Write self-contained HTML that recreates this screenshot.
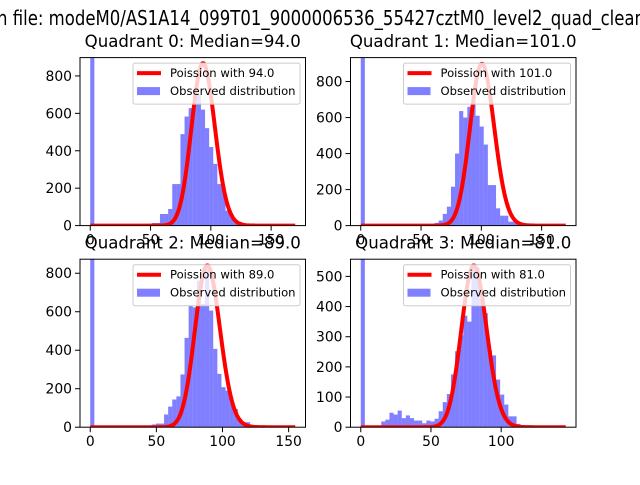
<!DOCTYPE html>
<html><head><meta charset="utf-8"><style>
html,body{margin:0;padding:0;background:#fff;}
svg text{font-family:"DejaVu Sans","Liberation Sans",sans-serif;}
</style></head><body>
<svg id="fig" width="640" height="480" viewBox="0 0 640 480" xmlns="http://www.w3.org/2000/svg">
<rect width="640" height="480" fill="#fff"/>
<text x="-3" y="25" font-size="20" textLength="648" lengthAdjust="spacingAndGlyphs">n file: modeM0/AS1A14_099T01_9000006536_55427cztM0_level2_quad_clean</text>
</svg>
<script>
const lambdas=[94,101,89,81];
const curvePeaks=[868,898,840,536];
const xMaxes=[170,170,155,146];
const yMaxes=[898,933,873,557];
const xTicks=[[0,50,100,150],[0,50,100,150],[0,50,100,150],[0,50,100]];
const yTicks=[[0,200,400,600,800],[0,200,400,600,800],[0,200,400,600,800],[0,100,200,300,400,500]];
const counts0=[3000,0,0,0,0,0,0,0,0,0,0,0,0,0,0,14,14,62,62,89,222,222,489,583,628,654,700,620,521,420,330,222,200,80,60,20,20,10,5,0,0,0,0,0,0,0,0,0,0,0];
const counts1=[3000,0,0,0,0,0,0,0,0,0,0,0,0,0,0,0,0,0,15,28,65,105,216,400,636,600,660,710,610,550,450,225,225,96,55,55,22,22,13,5,0,0,0,0,0,0,0,0,0,0];
const counts2=[3000,0,0,0,0,0,0,0,0,0,0,0,0,0,0,14,19,19,66,107,144,160,274,464,632,623,762,640,830,606,407,277,208,190,139,95,43,26,26,0,0,0,0,0,0,0,0,0,0,0];
const counts3=[3000,0,0,0,0,19,25,48,42,55,30,39,30,22,22,13,22,19,28,53,83,110,175,252,304,370,350,530,530,425,378,254,238,158,108,75,36,36,11,5,0,0,0,0,0,0,0,0,0,0];
const allCounts=[counts0,counts1,counts2,counts3];

const NS="http://www.w3.org/2000/svg";
const fig=document.getElementById('fig');
function mk(tag,attrs,parent){const e=document.createElementNS(NS,tag);for(const k in attrs)e.setAttribute(k,attrs[k]);(parent||fig).appendChild(e);return e;}
const boxes=[[80,57.6],[350.5,57.6],[80,259.2],[350.5,259.2]];
const W=225.5,H=168;
function lnFact(k){let s=0;for(let i=2;i<=k;i++)s+=Math.log(i);return s;}
function pmf(k,l){return Math.exp(k*Math.log(l)-l-lnFact(k));}

for(let q=0;q<4;q++){
  const [x0,y0]=boxes[q];
  const xmax=xMaxes[q],ymax=yMaxes[q];
  const xlo=-0.05*xmax,xhi=1.05*xmax;
  const sx=v=>x0+(v-xlo)/(xhi-xlo)*W;
  const sy=v=>y0+H-v/ymax*H;
  const g=mk('g',{});
  
  
  const cp=mk('clipPath',{id:'cp'+q},g);
  mk('rect',{x:x0,y:y0,width:W,height:H},cp);
  const plot=mk('g',{'clip-path':'url(#cp'+q+')'},g);
  const c=allCounts[q];const bw=xmax/c.length;
  c.forEach((v,i)=>{
    if(v<=0)return;
    const r=mk('rect',{x:sx(i*bw),y:sy(v),width:sx((i+1)*bw)-sx(i*bw),height:sy(0)-sy(v),fill:'#0000ff','fill-opacity':0.5},plot);
    
    
  });
  const lam=lambdas[q];
  const A=curvePeaks[q]/pmf(Math.floor(lam),lam);
  let d='';
  for(let k=0;k<=xmax;k++){d+=(k?'L':'M')+sx(k).toFixed(2)+','+sy(A*pmf(k,lam)).toFixed(2);}
  const curve=mk('path',{d:d,fill:'none',stroke:'#ff0000','stroke-width':4,'stroke-linejoin':'round'},plot);
  
  
  mk('rect',{x:x0,y:y0,width:W,height:H,fill:'none',stroke:'#000','stroke-width':1},g);
  xTicks[q].forEach(t=>{
    mk('line',{x1:sx(t),x2:sx(t),y1:y0+H,y2:y0+H+5,stroke:'#000'},g);
    const tx=mk('text',{x:sx(t),y:y0+H+19,'font-size':13.9,'text-anchor':'middle'},g);
    tx.textContent=t;
    
    
  });
  yTicks[q].forEach(t=>{
    mk('line',{x1:x0-5,x2:x0,y1:sy(t),y2:sy(t),stroke:'#000'},g);
    const tx=mk('text',{x:x0-8,y:sy(t)+5,'font-size':13.9,'text-anchor':'end'},g);
    tx.textContent=t;
    
    
  });
  const ti=mk('text',{x:x0+W/2,y:y0-10.5,'font-size':16.6,'text-anchor':'middle'},g);
  ti.textContent='Quadrant '+q+': Median='+lam.toFixed(1);
  
  
  const lg=mk('g',{},g);
  
  
  const lx=x0+W-172.5,ly=y0+5.5;
  mk('rect',{x:lx,y:ly,width:167,height:41,rx:2,fill:'#fff','fill-opacity':0.8,stroke:'#ccc'},lg);
  mk('line',{x1:lx+4,x2:lx+28,y1:ly+10,y2:ly+10,stroke:'#ff0000','stroke-width':4},lg);
  const t1=mk('text',{x:lx+37,y:ly+14,'font-size':11.6},lg);
  t1.textContent='Poission with '+lam.toFixed(1);
  
  
  mk('rect',{x:lx+4,y:ly+24,width:23,height:8,fill:'#0000ff','fill-opacity':0.5},lg);
  const t2=mk('text',{x:lx+37,y:ly+32,'font-size':11.6},lg);
  t2.textContent='Observed distribution';
  
  
}
</script>
</body></html>
